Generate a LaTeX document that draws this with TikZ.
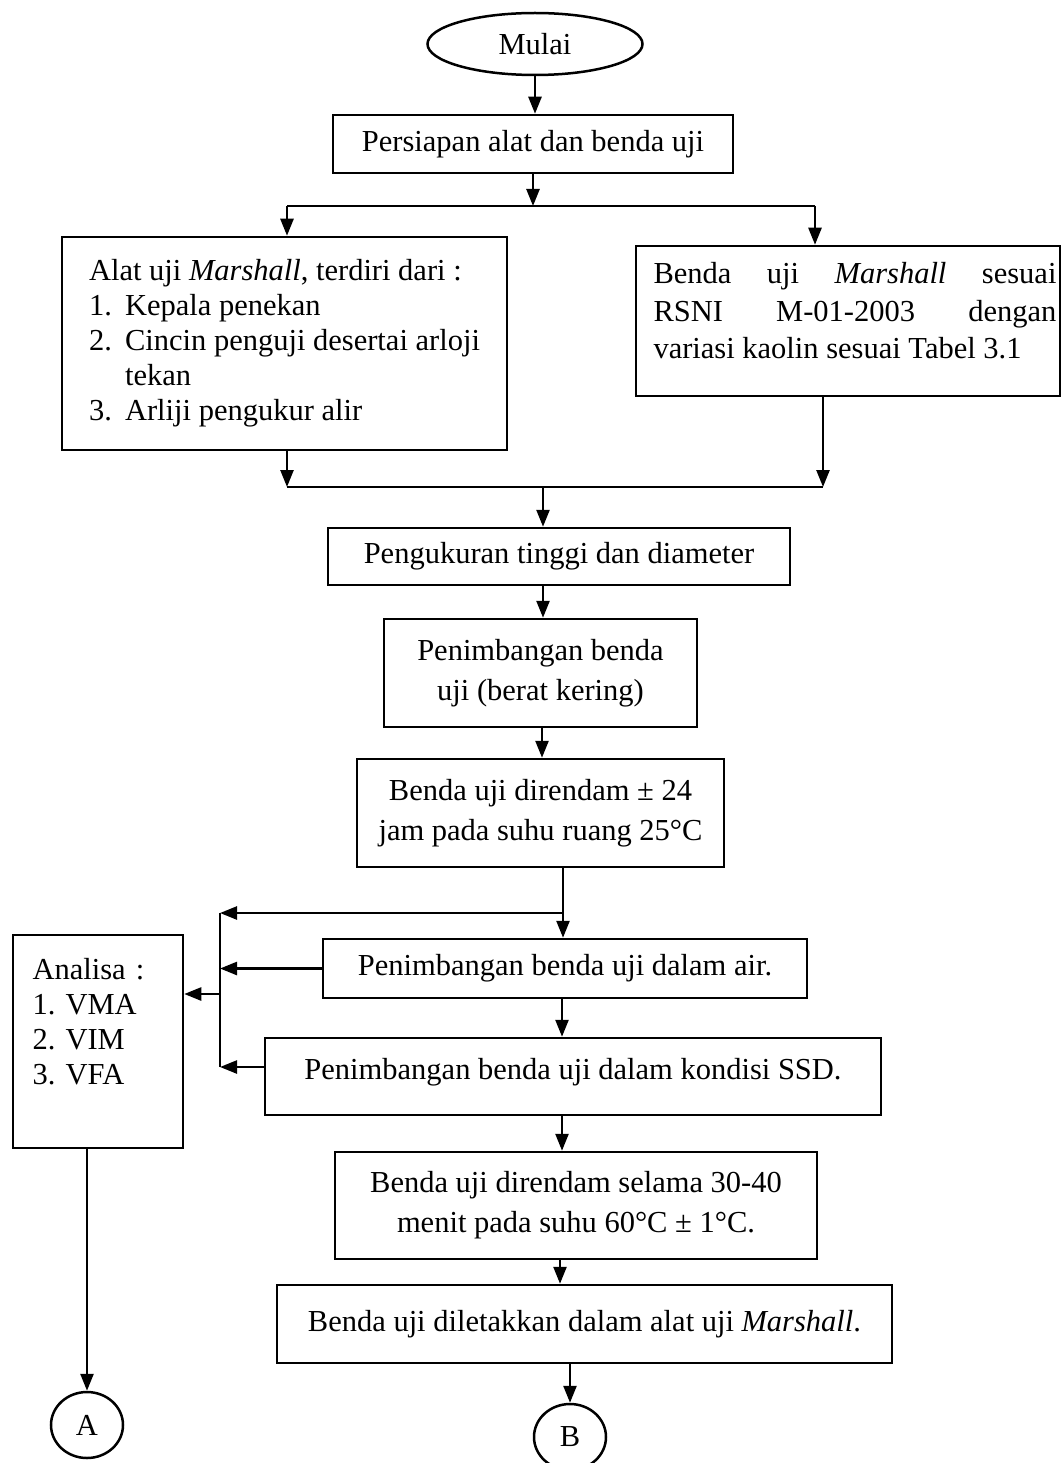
\documentclass[tikz,border=0pt]{standalone}
\usepackage{fontspec}
\setmainfont{Liberation Serif}
\usetikzlibrary{arrows.meta,shapes.geometric,calc}

\begin{document}
\begin{tikzpicture}[x=1pt,y=-1pt,
  line width=2.5pt,
  every node/.style={font=\fontsize{30.5}{38}\selectfont},
  box/.style 2 args={draw,rectangle,inner sep=0pt,align=center,
                     minimum width=#1pt,minimum height=#2pt},
  twoline/.style={font=\fontsize{30.5}{40}\selectfont},
  term/.style={draw,ellipse,inner sep=0pt},
  conn/.style={draw,ellipse,inner sep=0pt,minimum width=72pt,minimum height=66pt},
  flow/.style={-{Triangle[length=17pt,width=13pt]}},
  ]
\useasboundingbox (0,0) rectangle (1060,1463);

% process steps
\node[term,minimum width=215pt,minimum height=62pt] (mulai) at (535,44) {Mulai};
\node[box={400}{58}] (prep) at (533,144) {Persiapan alat dan benda uji};
\node[box={445}{213},align=left,font=\fontsize{30.5}{35}\selectfont] (alat) at (284.5,343.5)
  {Alat uji \textit{Marshall}, terdiri dari :\\
   \makebox[36pt][l]{1.}Kepala penekan\\
   \makebox[36pt][l]{2.}Cincin penguji desertai arloji\\
   \hspace*{36pt}tekan\\
   \makebox[36pt][l]{3.}Arliji pengukur alir};
\node[box={424}{150}] (benda) at (848,321)
  {\hbox{\kern14pt\parbox{403pt}{\fontsize{30.5}{37.5}\selectfont
    \makebox[403pt][s]{Benda uji \textit{Marshall} sesuai}\\
    \makebox[403pt][s]{RSNI M-01-2003 dengan}\\
    variasi kaolin sesuai Tabel 3.1\par\vspace*{20pt}}}};
\node[box={462}{57}] (ukur) at (559,556.5) {Pengukuran tinggi dan diameter};
\node[box={313}{108},twoline] (kering) at (540.5,673) {Penimbangan benda\\ uji (berat kering)};
\node[box={367}{108},twoline] (rendam) at (540.5,813) {Benda uji direndam ± 24\\ jam pada suhu ruang 25°C};
\node[box={484}{59}] (air) at (565,968.5) {Penimbangan benda uji dalam air.};
\node[box={616}{77}] (ssd) at (573,1076.5) {Penimbangan benda uji dalam kondisi SSD.\\[-22pt]\mbox{}};
\node[box={482}{107},twoline] (suhu) at (576,1205.5) {Benda uji direndam selama 30-40\\ menit pada suhu 60°C ± 1°C.};
\node[box={615}{78}] (letak) at (584.5,1324) {Benda uji diletakkan dalam alat uji \textit{Marshall}.};
\node[box={170}{213},text width=131pt,align=left,font=\fontsize{30.5}{35}\selectfont] (analisa) at (98,1041.5)
  {Analisa :\\ 1.\ VMA\\ 2.\ VIM\\ 3.\ VFA\\[6pt]\mbox{}};
\node[conn] (A) at (87,1425) {A};
\node[conn] (B) at (570,1437) {B};

% junction points
\coordinate (split)  at (533,206);
\coordinate (splitL) at (287,206);
\coordinate (splitR) at (815,206);
\coordinate (joinL)  at (287,487);
\coordinate (joinR)  at (823,487);
\coordinate (join)   at (543,487);
\coordinate (c2)     at (542,0);
\coordinate (tap)    at (563,913);
\coordinate (busTop) at (220,913);
\coordinate (busMid) at (220,994);
\coordinate (busBot) at (220,1067);
\coordinate (c4)     at (562,0);
\coordinate (c5)     at (560,0);

% connectors
\draw[flow] (mulai.south) -- (mulai.south |- prep.north);
\draw[flow] (prep.south -| split) -- (split);
\draw (splitL) -- (splitR);
\draw[flow] (splitL) -- (splitL |- alat.north);
\draw[flow] (splitR) -- (splitR |- benda.north);

\draw[flow] (alat.south -| joinL) -- (joinL);
\draw[flow] (benda.south -| joinR) -- (joinR);
\draw (joinL) -- (joinR);
\draw[flow] (join) -- (join |- ukur.north);

\draw[flow] (ukur.south -| join) -- (kering.north -| join);
\draw[flow] (kering.south -| c2) -- (rendam.north -| c2);
\draw[flow] (rendam.south -| tap) -- (air.north -| tap);
\draw[flow] (tap) -- (busTop);
\draw (busTop) -- (busBot);
\draw[flow] (air.west) -- (air.west -| busTop);
\draw[flow] (ssd.west |- busBot) -- (busBot);
\draw[flow] (busMid) -- (busMid -| analisa.east);

\draw[flow] (air.south -| c4) -- (ssd.north -| c4);
\draw[flow] (ssd.south -| c4) -- (suhu.north -| c4);
\draw[flow] (suhu.south -| c5) -- (letak.north -| c5);
\draw[flow] (letak.south -| B) -- (B);
\draw[flow] (analisa.south -| A) -- (A);
\end{tikzpicture}
\end{document}
